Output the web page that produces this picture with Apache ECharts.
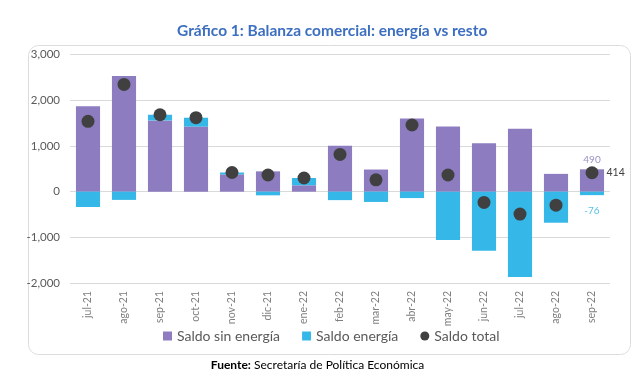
<!DOCTYPE html>
<html><head><meta charset="utf-8">
<script src="https://cdn.jsdelivr.net/npm/echarts@6/dist/echarts.min.js"></script>
<style>html,body{margin:0;padding:0;background:#fff}#c{width:635px;height:390px}</style>
</head><body><div id="c"></div>
<script>
const categories = ['jul-21','ago-21','sep-21','oct-21','nov-21','dic-21','ene-22','feb-22','mar-22','abr-22','may-22','jun-22','jul-22','ago-22','sep-22'];
const saldoSinEnergia = [1870, 2535, 1560, 1425, 380, 445, 140, 1005, 485, 1600, 1425, 1060, 1380, 390, 490];
const saldoEnergia = [-335, -180, 125, 195, 40, -80, 160, -185, -225, -140, -1060, -1295, -1870, -680, -76];
const saldoTotal = [1540, 2350, 1685, 1620, 420, 365, 300, 815, 260, 1460, 365, -235, -490, -295, 414];
const yTicks = {min: -2000, max: 3000, interval: 1000};

const FONT = 'Lato, "Open Sans", sans-serif';
const last = categories.length - 1;
const chart = echarts.init(document.getElementById('c'), null, {renderer: 'canvas'});
chart.setOption({
  animation: false,
  textStyle: {fontFamily: FONT},
  title: {
    text: 'Gráfico 1: Balanza comercial: energía vs resto',
    left: 172, top: 18,
    textStyle: {fontSize: 15.5, fontWeight: 'bold', color: '#3d6fc0', fontFamily: FONT}
  },
  graphic: [
    {type: 'rect', left: 26, top: 43, shape: {width: 602, height: 309, r: 10}, style: {fill: 'none', stroke: '#dcdcdc', lineWidth: 1}, z: -1},
    {type: 'text', left: 'center', top: 359, style: {
      text: '{b|Fuente:} Secretaría de Política Económica',
      rich: {b: {fontWeight: 'bold', fontSize: 12, fontFamily: FONT, fill: '#000'}},
      fontSize: 12, fontFamily: FONT, fill: '#000'}}
  ],
  legend: {
    bottom: 42, left: 158, itemGap: 22, itemWidth: 9, itemHeight: 9,
    textStyle: {fontSize: 14, color: '#595959', fontFamily: FONT},
    data: [
      {name: 'Saldo sin energía', icon: 'rect'},
      {name: 'Saldo energía', icon: 'rect'},
      {name: 'Saldo total', icon: 'circle'}
    ]
  },
  grid: {left: 70, right: 25, top: 54.7, bottom: 107},
  xAxis: {
    type: 'category', data: categories,
    axisLine: {show: false}, axisTick: {show: false},
    axisLabel: {rotate: 90, color: '#7f7f7f', fontSize: 10.5, margin: 8, fontFamily: FONT}
  },
  yAxis: {
    type: 'value', min: yTicks.min, max: yTicks.max, interval: yTicks.interval,
    axisLine: {show: false}, axisTick: {show: false},
    splitLine: {lineStyle: {color: '#d9d9d9', width: 1}},
    axisLabel: {color: '#595959', fontSize: 11.5, margin: 10, fontFamily: FONT,
      formatter: v => v.toLocaleString('en-US')}
  },
  series: [
    {
      name: 'Saldo sin energía', type: 'bar', stack: 's', barCategoryGap: '33%',
      itemStyle: {color: '#8d7cbf'},
      data: saldoSinEnergia.map((v, i) => i === last ? {value: v, label: {show: true, position: 'top', distance: 5, color: '#9b92c4', fontSize: 10}} : v)
    },
    {
      name: 'Saldo energía', type: 'bar', stack: 's',
      itemStyle: {color: '#35b8e8'},
      data: saldoEnergia.map((v, i) => i === last ? {value: v, label: {show: true, position: 'bottom', distance: 11, color: '#55c0e6', fontSize: 10}} : v)
    },
    {
      name: 'Saldo total', type: 'scatter', symbol: 'circle', symbolSize: 13,
      itemStyle: {color: '#404040', opacity: 1}, z: 5,
      data: saldoTotal.map((v, i) => i === last ? {value: v, label: {show: true, position: 'right', distance: 8, color: '#404040', fontSize: 10.5}} : v)
    }
  ]
});
</script></body></html>
